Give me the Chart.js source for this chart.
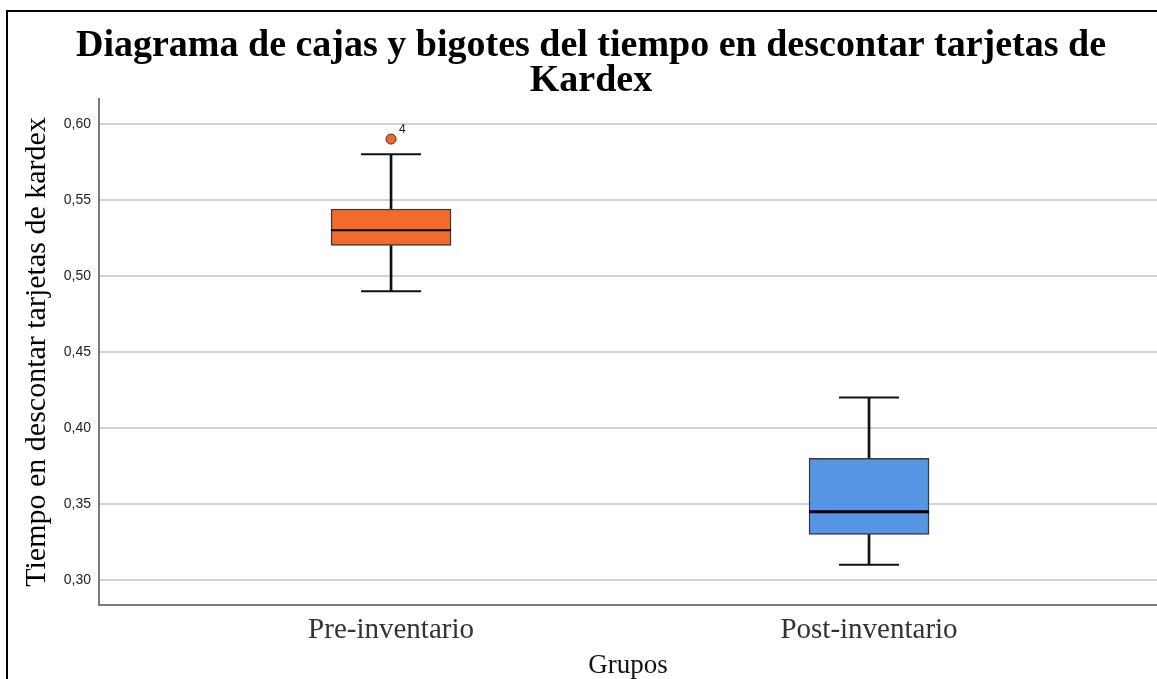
<!DOCTYPE html>
<html>
<head>
<meta charset="utf-8">
<script src="https://cdn.jsdelivr.net/npm/chart.js@4/dist/chart.umd.min.js"></script>
<style>
  html, body { margin: 0; padding: 0; background: #fff; }
  #wrap { width: 1157px; height: 679px; position: relative; }
</style>
</head>
<body>
<div id="wrap"><canvas id="myChart"></canvas></div>
<script>
// groups and box statistics
const groups = ['Pre-inventario', 'Post-inventario'];
const groupPos = [1, 2];
const mins = [0.49, 0.31];
const q1s = [0.52, 0.33];
const medians = [0.53, 0.345];
const q3s = [0.544, 0.38];
const maxs = [0.58, 0.42];
const outlierGroup = [1];
const outlierValues = [0.59];
const outlierLabels = ['4'];
const yTicks = [0.30, 0.35, 0.40, 0.45, 0.50, 0.55, 0.60];

const boxColors = ['#f26a2c', '#5595e3'];

const boxData = groupPos.map((x, i) => ({ x: x, y: [q1s[i], q3s[i]] }));
const upperWhisker = groupPos.map((x, i) => ({ x: x, y: [q3s[i], maxs[i]] }));
const lowerWhisker = groupPos.map((x, i) => ({ x: x, y: [mins[i], q1s[i]] }));
const medianData = groupPos.map((x, i) => ({ x: x, y: medians[i] }));
const capData = groupPos.map((x, i) => ({ x: x, y: maxs[i] }))
  .concat(groupPos.map((x, i) => ({ x: x, y: mins[i] })));
const outlierData = outlierGroup.map((x, i) => ({ x: x, y: outlierValues[i] }));

const framePlugin = {
  id: 'frame',
  beforeDraw(chart) {
    const ctx = chart.ctx;
    ctx.save();
    ctx.fillStyle = '#fff';
    ctx.fillRect(0, 0, chart.width, chart.height);
    ctx.strokeStyle = '#000';
    ctx.lineWidth = 2;
    ctx.beginPath();
    ctx.moveTo(7, chart.height);
    ctx.lineTo(7, 11);
    ctx.lineTo(chart.width, 11);
    ctx.stroke();
    ctx.restore();
  }
};

const outlierLabelPlugin = {
  id: 'outlierLabel',
  afterDatasetsDraw(chart) {
    const ctx = chart.ctx;
    const xs = chart.scales.x, ys = chart.scales.y;
    ctx.save();
    ctx.font = '12px "Liberation Sans", Arial, sans-serif';
    ctx.fillStyle = '#222';
    ctx.textAlign = 'left';
    ctx.textBaseline = 'middle';
    outlierData.forEach((p, i) => {
      ctx.fillText(outlierLabels[i], xs.getPixelForValue(p.x) + 8, ys.getPixelForValue(p.y) - 9);
    });
    ctx.restore();
  }
};

const config = {
  type: 'bar',
  data: {
    datasets: [
      {
        type: 'scatter',
        label: 'Mediana',
        data: medianData,
        pointStyle: 'line',
        pointRadius: 60,
        pointHoverRadius: 60,
        borderColor: '#000',
        pointBorderWidth: [2, 3],
        order: 1
      },
      {
        type: 'scatter',
        label: 'Bigotes',
        data: capData,
        pointStyle: 'line',
        pointRadius: 30,
        pointHoverRadius: 30,
        borderColor: '#111',
        borderWidth: 2,
        order: 1
      },
      {
        type: 'scatter',
        label: 'Atipicos',
        data: outlierData,
        pointStyle: 'circle',
        pointRadius: 5,
        backgroundColor: boxColors[0],
        borderColor: '#5a2a10',
        borderWidth: 1,
        order: 0
      },
      {
        label: 'Caja',
        data: boxData,
        backgroundColor: boxColors,
        borderColor: '#3a3a3a',
        borderWidth: 1.5,
        borderSkipped: false,
        barThickness: 120,
        grouped: false,
        order: 2
      },
      {
        label: 'Bigote superior',
        data: upperWhisker,
        backgroundColor: '#111',
        borderWidth: 0,
        barThickness: 2,
        grouped: false,
        order: 3
      },
      {
        label: 'Bigote inferior',
        data: lowerWhisker,
        backgroundColor: '#111',
        borderWidth: 0,
        barThickness: 2,
        grouped: false,
        order: 3
      }
    ]
  },
  options: {
    responsive: false,
    animation: false,
    events: [],
    layout: {
      autoPadding: false,
      padding: { left: 25, top: 0, right: 0, bottom: 0 }
    },
    plugins: {
      legend: { display: false },
      tooltip: { enabled: false },
      title: {
        display: true,
        text: ['Diagrama de cajas y bigotes del tiempo en descontar tarjetas de', 'Kardex'],
        color: '#000',
        font: { family: '"Liberation Serif", "Times New Roman", serif', size: 38, weight: 'bold', lineHeight: 0.92 },
        padding: { top: 29, bottom: 0 }
      }
    },
    scales: {
      x: {
        type: 'linear',
        offset: false,
        min: 0.389,
        max: 2.6025,
        afterBuildTicks: (scale) => { scale.ticks = groupPos.map(v => ({ value: v })); },
        afterFit: (scale) => {
          scale.height = 74;
          scale.paddingLeft = 0;
          scale.paddingRight = 0;
        },
        ticks: {
          callback: (v) => groups[groupPos.indexOf(v)] || '',
          color: '#333',
          font: { family: '"Liberation Serif", "Times New Roman", serif', size: 29 },
          padding: 8,
          maxRotation: 0
        },
        grid: { display: false, drawTicks: false, offset: false },
        border: { display: true, color: '#7a7a7a', width: 2 },
        title: {
          display: true,
          text: 'Grupos',
          color: '#111',
          font: { family: '"Liberation Serif", "Times New Roman", serif', size: 27, lineHeight: 1.0 },
          padding: 0
        }
      },
      y: {
        min: 0.2836,
        max: 0.6164,
        afterBuildTicks: (scale) => { scale.ticks = yTicks.map(v => ({ value: v })); },
        afterFit: (scale) => {
          scale.width = 74;
          scale.paddingTop = 0;
          scale.paddingBottom = 0;
        },
        ticks: {
          callback: (v) => v.toFixed(2).replace('.', ','),
          color: '#222',
          font: { family: '"Liberation Sans", Arial, sans-serif', size: 14 },
          padding: 8
        },
        grid: { color: '#d3d3d3', lineWidth: 2, drawTicks: false },
        border: { display: true, color: '#7a7a7a', width: 2 },
        title: {
          display: true,
          text: 'Tiempo en descontar tarjetas de kardex',
          color: '#000',
          font: { family: '"Liberation Serif", "Times New Roman", serif', size: 30, lineHeight: 0.8 },
          padding: 0
        }
      }
    }
  },
  plugins: [framePlugin, outlierLabelPlugin]
};

const canvas = document.getElementById('myChart');
canvas.width = 1157;
canvas.height = 679;
const myChart = new Chart(canvas, config);
</script>
</body>
</html>
